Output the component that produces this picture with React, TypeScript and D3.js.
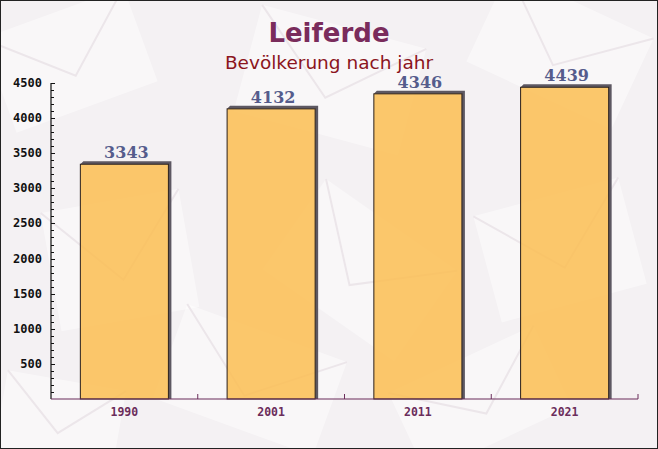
import React, { useEffect, useRef } from 'react';
import * as d3 from 'd3';

const years = ['1990', '2001', '2011', '2021'];
const population = [3343, 4132, 4346, 4439];
const yTicks = [500, 1000, 1500, 2000, 2500, 3000, 3500, 4000, 4500];
const titleText = 'Leiferde';
const subtitleText = 'Bevölkerung nach jahr';

// faint envelope shapes in the background: [cx, cy, w, h, angle]
const envelopes: [number, number, number, number, number][] = [
  [70, 60, 150, 100, -20], [330, 80, 170, 110, 15], [560, 50, 160, 100, 25],
  [120, 260, 140, 120, -10], [360, 270, 160, 110, 35], [560, 250, 150, 110, -15],
  [250, 380, 170, 100, 20], [480, 400, 160, 90, -25], [60, 420, 120, 80, 10],
];

const App: React.FC = () => {
  const ref = useRef<SVGSVGElement | null>(null);

  useEffect(() => {
    document.body.style.margin = '0';
    const W = 658;
    const H = 449;
    const margin = { top: 83, right: 20, bottom: 50, left: 51 };
    const width = W - margin.left - margin.right;
    const height = H - margin.top - margin.bottom;

    const svg = d3.select(ref.current).attr('width', W).attr('height', H);
    svg.selectAll('*').remove();

    svg.append('rect').attr('width', W).attr('height', H).attr('fill', '#f4f1f3');

    // Background decoration
    const deco = svg.append('g');
    envelopes.forEach(([cx, cy, w, h, a]) => {
      const g = deco.append('g').attr('transform', `translate(${cx},${cy}) rotate(${a})`);
      g.append('rect')
        .attr('x', -w / 2).attr('y', -h / 2).attr('width', w).attr('height', h)
        .attr('fill', '#ffffff').attr('opacity', 0.45);
      g.append('path')
        .attr('d', `M${-w / 2},${-h / 2} L0,${h / 6} L${w / 2},${-h / 2}`)
        .attr('fill', 'none').attr('stroke', '#ece6ea').attr('stroke-width', 2);
    });

    svg.append('rect')
      .attr('x', 0.5).attr('y', 0.5).attr('width', W - 1).attr('height', H - 1)
      .attr('fill', 'none').attr('stroke', '#222').attr('stroke-width', 1);

    const chart = svg.append('g').attr('transform', `translate(${margin.left},${margin.top})`);

    const x = d3.scaleBand<string>().domain(years).range([0, width]).paddingInner(0.4).paddingOuter(0.2);
    const xb = d3.scaleBand<string>().domain(years).range([0, width]);
    const y = d3.scaleLinear().domain([0, 4500]).range([height, 0]);

    // Bars with 3D shadow
    const depth = 3;
    years.forEach((yr, i) => {
      const bx = x(yr)!;
      const by = y(population[i]);
      const bw = x.bandwidth();
      chart.append('path')
        .attr('d', `M${bx},${by} L${bx + depth},${by - depth} L${bx + bw + depth},${by - depth} L${bx + bw + depth},${height} L${bx + bw},${height} L${bx + bw},${by} Z`)
        .attr('fill', '#5d5862');
      chart.append('rect')
        .attr('x', bx).attr('y', by).attr('width', bw).attr('height', height - by)
        .attr('fill', '#fcbd50').attr('fill-opacity', 0.84)
        .attr('stroke', '#2a1f1a').attr('stroke-width', 1);
      chart.append('text')
        .attr('x', bx + bw / 2 + 2).attr('y', by - 6)
        .attr('text-anchor', 'middle')
        .style('font-family', '"DejaVu Serif", serif')
        .style('font-weight', 'bold')
        .style('font-size', '16px')
        .attr('fill', '#555c8c')
        .text(population[i]);
    });

    // Y axis
    const yAxis = chart.append('g');
    yAxis.append('line').attr('x1', 0).attr('x2', 0).attr('y1', 0).attr('y2', height)
      .attr('stroke', '#111').attr('stroke-width', 1.2);
    d3.range(100, 4501, 100).forEach(v => {
      const major = v % 500 === 0;
      yAxis.append('line')
        .attr('x1', 0).attr('x2', major ? 4 : 3)
        .attr('y1', Math.round(y(v)) + 0.5).attr('y2', Math.round(y(v)) + 0.5)
        .attr('stroke', '#111');
    });
    yTicks.forEach(v => {
      yAxis.append('text')
        .attr('x', -9).attr('y', y(v) + 4)
        .attr('text-anchor', 'end')
        .style('font-family', '"DejaVu Sans Mono", monospace')
        .style('font-weight', 'bold')
        .style('font-size', '12px')
        .attr('fill', '#111')
        .text(v);
    });

    // X axis
    const xAxis = chart.append('g').attr('transform', `translate(0,${height})`);
    xAxis.append('line').attr('x1', 0).attr('x2', width).attr('y1', 0).attr('y2', 0)
      .attr('stroke', '#6b2d5b').attr('stroke-width', 1.2);
    years.forEach((yr, i) => {
      const edge = xb(yr)! + xb.bandwidth();
      xAxis.append('line').attr('x1', edge).attr('x2', edge).attr('y1', 0).attr('y2', -5)
        .attr('stroke', '#6b2d5b');
      xAxis.append('text')
        .attr('x', x(yr)! + x.bandwidth() / 2).attr('y', 17)
        .attr('text-anchor', 'middle')
        .style('font-family', '"DejaVu Sans Mono", monospace')
        .style('font-weight', 'bold')
        .style('font-size', '11.5px')
        .attr('fill', '#6b2d5b')
        .text(yr);
    });

    // Titles
    svg.append('text')
      .attr('x', W / 2).attr('y', 42)
      .attr('text-anchor', 'middle')
      .style('font-family', '"DejaVu Sans", Verdana, sans-serif')
      .style('font-weight', 'bold')
      .style('font-size', '26px')
      .attr('fill', '#7a2c5c')
      .text(titleText);
    svg.append('text')
      .attr('x', W / 2).attr('y', 69)
      .attr('text-anchor', 'middle')
      .style('font-family', '"DejaVu Sans", Verdana, sans-serif')
      .style('font-size', '18.5px')
      .attr('fill', '#8b1520')
      .text(subtitleText);
  }, []);

  return <svg ref={ref} style={{ display: 'block' }}></svg>;
};

export default App;
